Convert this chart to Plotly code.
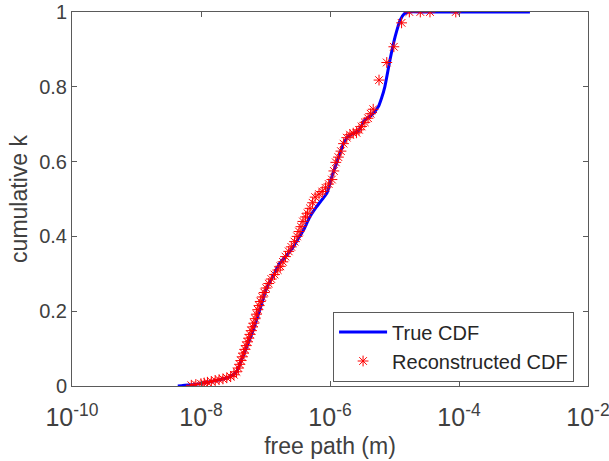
import plotly.graph_objects as go

# True CDF (log10 of free path in m, cumulative k)
true_logx = [-8.36, -8.30, -8.10, -7.97, -7.75, -7.55, -7.45, -7.37, -7.29, -7.19, -7.09,
             -6.98, -6.88, -6.78, -6.67, -6.57, -6.49, -6.41, -6.31, -6.21, -6.13, -6.05,
             -5.97, -5.90, -5.84, -5.79, -5.72, -5.64, -5.56, -5.46, -5.35, -5.25, -5.20,
             -5.15, -5.07, -4.99, -4.91, -4.85, -4.78, -4.50, -2.90]
true_y = [0.0, 0.001, 0.004, 0.008, 0.015, 0.025, 0.038, 0.07, 0.105, 0.15, 0.203,
          0.262, 0.295, 0.328, 0.350, 0.372, 0.395, 0.417, 0.453, 0.479, 0.497, 0.515,
          0.56, 0.595, 0.625, 0.649, 0.667, 0.675, 0.682, 0.711, 0.725, 0.747, 0.77,
          0.80, 0.872, 0.934, 0.979, 0.995, 1.0, 1.0, 1.0]

# Reconstructed CDF
rec_logx = [-8.15, -8.08, -8.00, -7.95, -7.90, -7.84, -7.78, -7.72, -7.66, -7.60, -7.54,
            -7.49, -7.45, -7.42, -7.40, -7.38, -7.36, -7.34, -7.32, -7.30, -7.28, -7.26,
            -7.24, -7.22, -7.20, -7.18, -7.16, -7.14, -7.12, -7.10, -7.08, -7.05, -7.02,
            -6.99, -6.95, -6.91, -6.86, -6.81, -6.77, -6.73, -6.69, -6.64, -6.60, -6.55,
            -6.51, -6.48, -6.45, -6.42, -6.38, -6.35, -6.31, -6.27, -6.23, -6.17, -6.12,
            -6.07, -6.02, -5.97, -5.94, -5.91, -5.87, -5.83, -5.79, -5.74, -5.69, -5.64,
            -5.59, -5.55, -5.51, -5.46, -5.41, -5.37, -5.33, -5.24, -5.12, -5.01, -4.89,
            -4.77, -4.60, -4.45, -4.05]
rec_y = [0.002, 0.004, 0.006, 0.008, 0.010, 0.012, 0.015, 0.017, 0.019, 0.022, 0.025,
         0.030, 0.038, 0.048, 0.058, 0.068, 0.078, 0.088, 0.098, 0.108, 0.118, 0.128,
         0.138, 0.148, 0.158, 0.168, 0.180, 0.192, 0.204, 0.215, 0.226, 0.238, 0.250,
         0.262, 0.274, 0.286, 0.298, 0.310, 0.320, 0.332, 0.346, 0.360, 0.372, 0.386,
         0.400, 0.413, 0.426, 0.440, 0.452, 0.462, 0.475, 0.490, 0.505, 0.513, 0.520,
         0.530, 0.540, 0.552, 0.575, 0.598, 0.612, 0.628, 0.648, 0.664, 0.672, 0.676,
         0.677, 0.685, 0.694, 0.705, 0.716, 0.728, 0.740, 0.818, 0.865, 0.907, 0.971,
         1.0, 1.0, 1.0, 1.0]

x_tick_exponents = [-10, -8, -6, -4, -2]
y_tick_vals = [0, 0.2, 0.4, 0.6, 0.8, 1]
y_tick_text = ["0", "0.2", "0.4", "0.6", "0.8", "1"]

true_x = [10 ** v for v in true_logx]
rec_x = [10 ** v for v in rec_logx]

# map Plotly's power labels (unicode minus) to MATLAB-style hyphen labels
x_alias = {f"10<sup>\u2212{abs(e)}</sup>": f"10<sup>-{abs(e)}</sup>" for e in x_tick_exponents}

FONT = "Liberation Sans"
TXT = "#404040"

fig = go.Figure()
fig.add_trace(go.Scatter(x=true_x, y=true_y, mode="lines", name="True CDF",
                         line=dict(color="#0000ff", width=3, shape="spline", smoothing=0.6)))
fig.add_trace(go.Scatter(x=rec_x, y=rec_y, mode="markers", name="Reconstructed CDF",
                         marker=dict(symbol="asterisk-open", size=9, color="#ff0000",
                                     line=dict(color="#ff0000", width=1))))

axis_common = dict(showline=True, linecolor="#5a5a5a", linewidth=1, mirror="ticks",
                   ticks="inside", ticklen=5, tickcolor="#5a5a5a", showgrid=False,
                   zeroline=False, automargin=False, ticklabeloverflow="allow",
                   tickfont=dict(family=FONT, size=20, color=TXT))

fig.update_layout(
    width=609, height=461,
    margin=dict(l=72, r=21, t=12, b=75, autoexpand=False),
    paper_bgcolor="white", plot_bgcolor="white",
    font=dict(family=FONT, color=TXT),
    showlegend=True,
    legend=dict(x=0.973, y=0.012, xanchor="right", yanchor="bottom",
                bgcolor="white", bordercolor="#5a5a5a", borderwidth=1, itemwidth=48,
                font=dict(family=FONT, size=20, color="#262626")),
)
fig.update_xaxes(type="log", range=[-10, -1.9999], tickmode="linear", tick0=0, dtick=2,
                 exponentformat="power", labelalias=x_alias, ticklabelstandoff=10,
                 title=dict(text="free path (m)", font=dict(size=23, family=FONT, color=TXT), standoff=7),
                 **axis_common)
fig.update_yaxes(range=[0, 1], tickvals=y_tick_vals, ticktext=y_tick_text,
                 title=dict(text="cumulative k", font=dict(size=23, family=FONT, color=TXT), standoff=5),
                 **axis_common)

# remove the browser's default page margin so the figure sits at the window origin
fig.write_html("out.html", config={"displayModeBar": False},
               post_script="document.body.style.margin='0';")
